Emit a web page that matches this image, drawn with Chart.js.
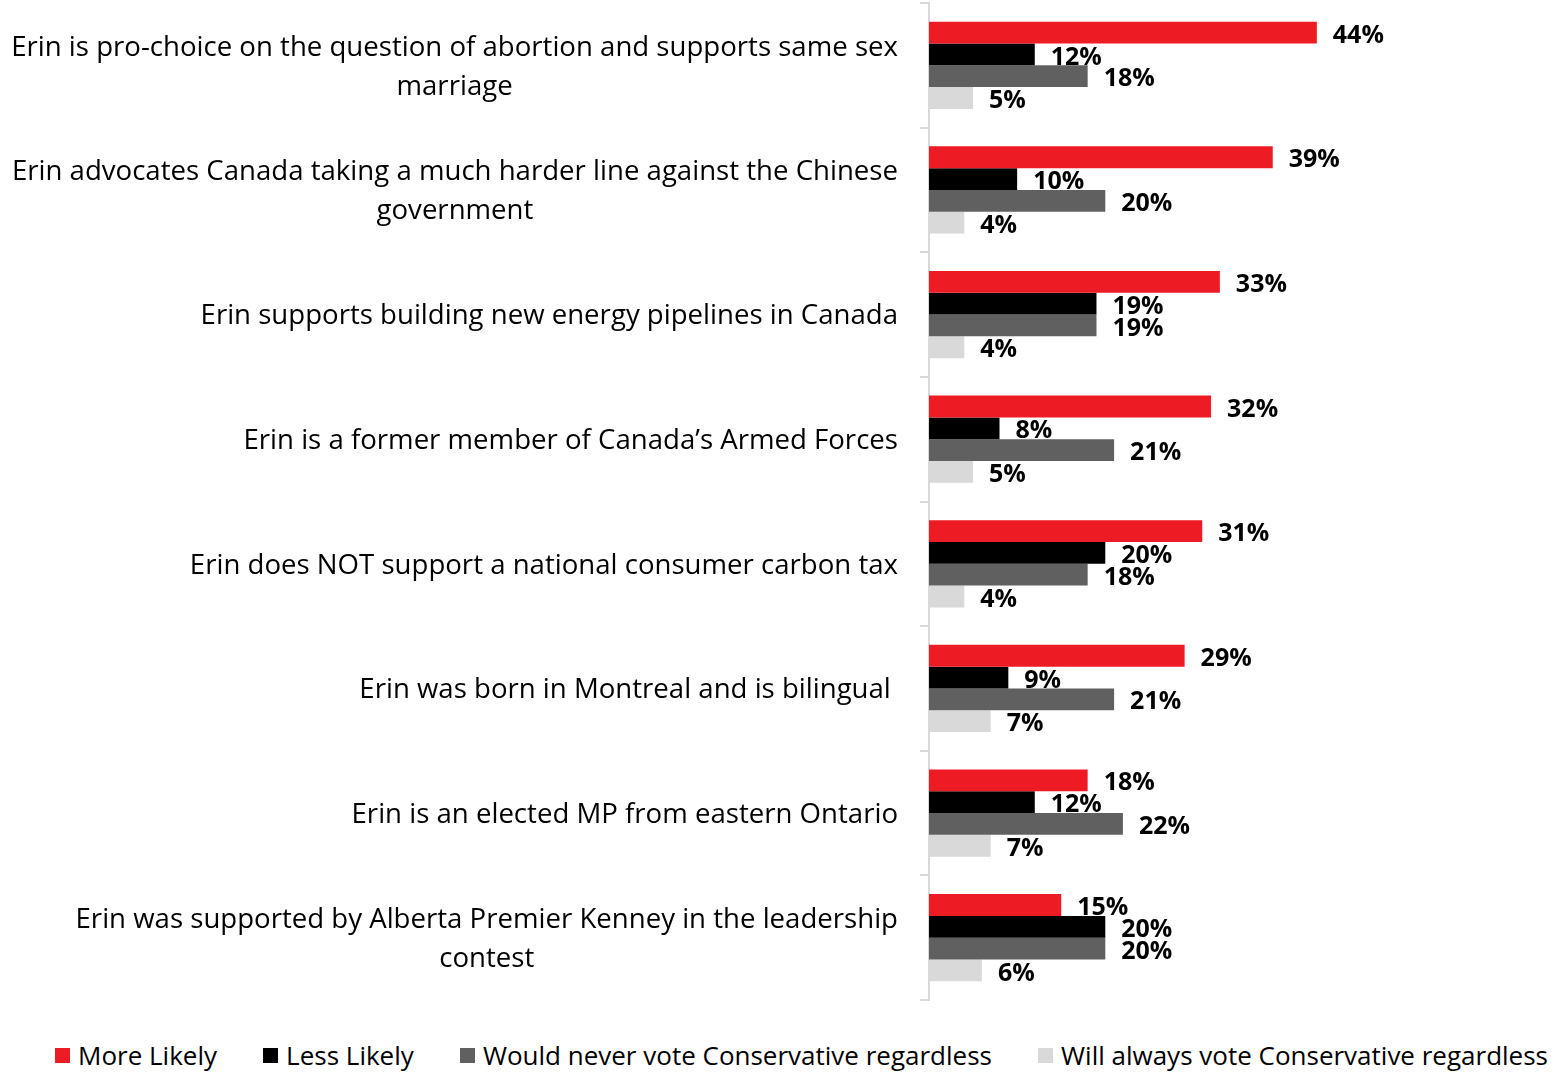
<!DOCTYPE html>
<html>
<head>
<meta charset="utf-8">
<title>Erin O'Toole attributes</title>
<script src="https://cdn.jsdelivr.net/npm/chart.js@4.4.1/dist/chart.umd.min.js"></script>
<style>
	html, body { margin: 0; padding: 0; background: #fff; }
	#wrap { position: relative; width: 1556px; height: 1074px; }
	#chart-holder { position: absolute; left: 0; top: 0; width: 1556px; height: 1030px; }
	#legend {
		position: absolute; left: 55px; top: 1038px; width: 1493px;
		display: flex; justify-content: space-between;
		font-family: 'Open Sans', Lato, sans-serif; font-size: 26px; line-height: 34px; color: #000;
	}
	.legend-item { display: flex; align-items: center; white-space: nowrap; }
	.legend-box { width: 15px; height: 15px; margin-right: 8px; }
</style>
</head>
<body>
<div id="wrap">
	<div id="chart-holder"><canvas id="attr-chart" width="1556" height="1030"></canvas></div>
	<div id="legend"></div>
</div>
<script>
// --- Data ---
const categories = [
	['Erin is pro-choice on the question of abortion and supports same sex', 'marriage'],
	['Erin advocates Canada taking a much harder line against the Chinese', 'government'],
	'Erin supports building new energy pipelines in Canada',
	'Erin is a former member of Canada\u2019s Armed Forces',
	'Erin does NOT support a national consumer carbon tax',
	'Erin was born in Montreal and is bilingual ',
	'Erin is an elected MP from eastern Ontario',
	['Erin was supported by Alberta Premier Kenney in the leadership', 'contest']
];
const seriesNames = ['More Likely', 'Less Likely', 'Would never vote Conservative regardless', 'Will always vote Conservative regardless'];
const seriesColors = ['#ED1C24', '#000000', '#606060', '#D9D9D9'];
const moreLikely = [44, 39, 33, 32, 31, 29, 18, 15];
const lessLikely = [12, 10, 19, 8, 20, 9, 12, 20];
const neverVote = [18, 20, 19, 21, 18, 21, 22, 20];
const alwaysVote = [5, 4, 4, 5, 4, 7, 7, 6];
const seriesValues = [moreLikely, lessLikely, neverVote, alwaysVote];

const FONT = "'Open Sans', Lato, sans-serif";

// --- Plugins ---
// category labels: right-aligned block, wrapped lines centred under each other
const yLabelPlugin = {
	id: 'yLabels',
	afterDraw(chart) {
		const ctx = chart.ctx;
		const yScale = chart.scales.y;
		const right = chart.chartArea.left - 31;
		ctx.save();
		ctx.font = '27.6px ' + FONT;
		ctx.fillStyle = '#000';
		ctx.textAlign = 'center';
		ctx.textBaseline = 'middle';
		categories.forEach((lab, i) => {
			const lines = Array.isArray(lab) ? lab : [lab];
			const cy = yScale.getPixelForTick(i) + 2;
			const maxW = Math.max(...lines.map(l => ctx.measureText(l).width));
			const cx = right - maxW / 2;
			lines.forEach((l, j) => {
				ctx.fillText(l, cx, cy + (j - (lines.length - 1) / 2) * 39);
			});
		});
		ctx.restore();
	}
};

// value labels to the right of every bar
const valueLabelPlugin = {
	id: 'valueLabels',
	afterDatasetsDraw(chart) {
		const ctx = chart.ctx;
		ctx.save();
		ctx.font = 'bold 25px ' + FONT;
		ctx.fillStyle = '#000';
		ctx.textAlign = 'left';
		ctx.textBaseline = 'middle';
		chart.data.datasets.forEach((ds, di) => {
			chart.getDatasetMeta(di).data.forEach((bar, i) => {
				ctx.fillText(ds.data[i] + '%', bar.x + 16, bar.y + 3);
			});
		});
		ctx.restore();
	}
};

// --- Chart ---
const ctx = document.getElementById('attr-chart').getContext('2d');
new Chart(ctx, {
	type: 'bar',
	data: {
		labels: categories,
		datasets: seriesNames.map((name, i) => ({
			label: name,
			data: seriesValues[i],
			backgroundColor: seriesColors[i],
			categoryPercentage: 0.7,
			barPercentage: 1.0
		}))
	},
	options: {
		indexAxis: 'y',
		responsive: false,
		animation: false,
		layout: { padding: { top: 3, right: 10, bottom: 30, left: 0 } },
		plugins: {
			legend: { display: false },
			tooltip: { enabled: false }
		},
		scales: {
			x: { display: false, min: 0, max: 70 },
			y: {
				ticks: { display: false },
				grid: { drawOnChartArea: false, tickLength: 9, color: '#D9D9D9', lineWidth: 2 },
				border: { color: '#D9D9D9', width: 2 },
				afterFit(scale) { scale.width = 929; }
			}
		}
	},
	plugins: [yLabelPlugin, valueLabelPlugin]
});

// --- Legend (HTML) ---
const legendEl = document.getElementById('legend');
seriesNames.forEach((name, i) => {
	const item = document.createElement('div');
	item.className = 'legend-item';
	const box = document.createElement('span');
	box.className = 'legend-box';
	box.style.background = seriesColors[i];
	item.appendChild(box);
	item.appendChild(document.createTextNode(name));
	legendEl.appendChild(item);
});
</script>
</body>
</html>
